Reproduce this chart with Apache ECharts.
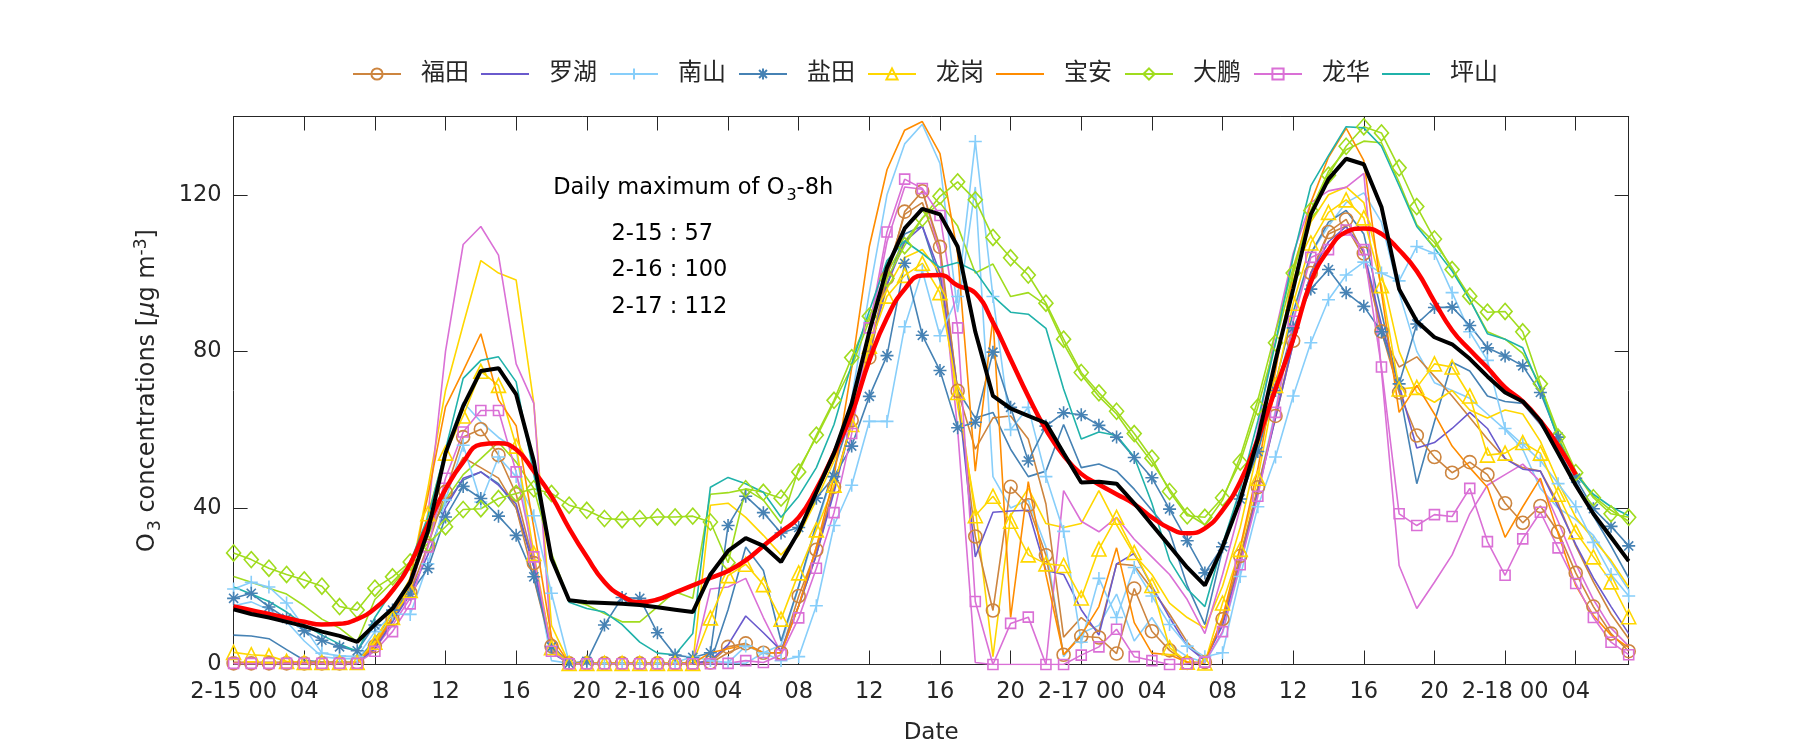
<!DOCTYPE html>
<html><head><meta charset="utf-8">
<script src="https://cdn.jsdelivr.net/npm/echarts@6/dist/echarts.min.js"></script>
<style>html,body{margin:0;padding:0;background:#fff}#chart{width:1800px;height:750px}</style>
</head><body><div id="chart"></div>
<script>
// ---------------- DATA ----------------
const hours = [0,1,2,3,4,5,6,7,8,9,10,11,12,13,14,15,16,17,18,19,20,21,22,23,24,25,26,27,28,29,30,31,32,33,34,35,36,37,38,39,40,41,42,43,44,45,46,47,48,49,50,51,52,53,54,55,56,57,58,59,60,61,62,63,64,65,66,67,68,69,70,71,72,73,74,75,76,77,78,79];
const dayLabels = ['2-15','2-16','2-17','2-18'];
const stationNames = ['福田','罗湖','南山','盐田','龙岗','宝安','大鹏','龙华','坪山'];

const futian = [0.3,0.3,0.3,0.3,0.3,0.3,0.3,0.5,4.7,11.6,18.4,30.3,44.1,58.1,60.1,53.5,43.5,25.9,4.7,0.3,0.3,0.3,0.3,0.3,0.3,0.3,0.3,0.5,4.5,5.4,3.0,3.0,17.5,29.3,45.4,62.4,78.4,98.7,115.7,120.9,106.7,69.9,32.7,13.8,45.4,40.7,27.9,2.5,7.2,6.9,2.8,19.4,8.5,3.6,0.4,0.6,11.6,27.7,45.3,63.5,82.7,100,110.5,113.7,105,85.1,69.5,58.5,53,49,51.7,48.5,41.2,36.2,40.5,33.9,23.4,14.8,7.9,3.4];
const luohu = [0.5,0.5,0.5,0.5,0.5,0.5,0.5,0.5,4,11,18,28,40,47.6,49.2,45.8,41,25,3,0.3,0.3,0.3,0.3,0.3,0.3,0.3,0.3,1,5,12.4,8.1,3.6,15,28,44,62,80,97,108,112,100,70,27.5,38.9,39.2,39.4,24,23,14,7.5,25.7,28.4,20,12,4.7,1,10,26,44,63,82,100,108,111.9,105.5,86.8,71.3,55.3,56.7,60.3,64.4,60.3,52.6,49.9,49.4,40.3,30.7,22.1,14.8,7.9];
const nanshan = [19.3,21,19.8,15.7,9.5,2.9,2.2,2,8.4,12.9,12.8,25.7,42,56,41.5,53,48,38,18.2,0.5,0.3,0.3,0.3,0.3,0.3,0.5,2,1,0.5,4.7,3,1,2,15,35.5,45.8,62.1,62.1,86.3,100.6,84,94,133.6,94,60,65.7,48,34,5.7,22,12,24.8,17.5,10.2,4.7,2,3,22.5,40.3,53,68.6,82.2,93.2,99.5,102.8,100,98,106.8,105,95,85,77.7,60.3,56.2,52.1,46.2,40.3,31.2,23,17.5];
const yantian = [16.9,18.2,14.7,11.8,8.6,6.2,4.5,3.5,10.1,13.9,18,24.5,37.7,45.5,42.4,37.9,33,22.4,4.5,0.3,0.8,10.1,17.1,16.9,8.1,2.4,1.8,3,35.5,43,38.8,33.6,35,42.5,48,55.8,68.5,78.9,102.5,84.1,75.1,60.5,61.9,79.8,65.7,52,60.9,64.3,63.8,61.1,58.1,52.9,47.7,39.7,31.6,23.4,30.1,42.3,54.4,70,86,95.9,100.9,95,91.5,85,71.7,87,91.2,91.3,86.6,80.9,78.8,76.3,69.5,58.1,47.6,39.8,35.3,30.3];
const longgang = [3.1,2.5,2.2,0.8,0.5,0.5,0.5,0.5,5.7,12,18.9,38.5,54,63.5,74.9,71.3,55.8,28.4,4.3,0.3,0.3,0.3,0.3,0.3,0.3,0.3,0.3,11.9,22.7,25.6,20.4,11.6,23.4,34.4,45.8,61.3,81.3,94.1,99.4,102.5,95,69.5,38,43,36.6,28,25.7,25.3,17,29.5,37.6,28.6,20.2,4.3,0.6,0.4,15.7,29.4,47.6,71.3,92.3,107.7,115.5,118.7,114.1,96.8,70.4,70.8,76.8,76,68.6,53.5,54,56.7,54,43.5,33.9,27.5,21.1,12.2];
const baoan = [0.5,0.5,0.5,0.5,0.5,0.5,0.5,0.5,5,12,22,43,65.8,75,84.5,67.6,61,35,7,0.3,0.3,0.3,0.3,0.3,0.3,0.3,0.3,3,4,5,3,3,15,30,48,75.8,106.8,126.4,136.5,138.7,130.5,105,49.4,88.6,12,46.7,23,2.5,7.5,14.8,29.8,10.7,2.9,2.5,0.6,0.4,12,30,50,75,100,118,129.6,137,128.7,95,64.4,71.3,64,55.8,50.3,45.3,32.5,40.3,47.6,33.5,20.2,12.5,7.5,4.3];
const dapeng = [28.5,26.8,24.6,23,21.6,20,14.8,13.9,19.5,22.4,26.2,30.9,35.2,39.6,39.8,42.4,43.7,44.9,43.7,40.7,39.4,37.3,37,37.3,37.7,37.7,37.9,36.4,26,44.9,44,42.5,49.2,58.6,67.5,78.4,89,98.6,107,114,119.6,123.3,118.7,109.1,103.9,99.5,92.3,83.1,74.6,69.4,64.7,59,52.7,44.2,38,37.6,42.6,51.7,65.8,82.2,100,116,125,132.4,137.4,135.8,126.9,117,108.7,100.9,94.1,90,90.2,85,71.7,58.1,49,42.6,38.5,37.6];
const longhua = [0.3,0.3,0.3,0.3,0.3,0.3,0.3,0.3,3.4,8.4,15.5,30,47.6,59.4,64.9,64.9,49.2,27.5,3.4,0.2,0.2,0.2,0.2,0.2,0.2,0.2,0.2,0.2,0.3,1,0.5,2.5,11.9,24.6,38.8,59,86,110.5,124,121.6,114.7,86,16.1,0,10.5,12.1,0,0,2.4,4.5,9,2,1,0,0.2,0.6,8.4,25.5,43,64.4,87.7,104,106,111,106,76,38.5,35.5,38.3,37.8,45,31.4,22.8,32.1,38.9,29.8,20.7,12,5.7,2.5];
const pingshan = [19.8,18,16.1,13.4,10.2,7.5,5.2,3.4,12,18.9,26.2,37.6,54.9,73.1,77.7,78.6,72.2,48.5,27.5,15.9,14.3,13.4,10.2,5.7,2.9,2.5,7.9,45.3,47.8,46.2,44,37.6,43,50.3,61.3,76.8,90.4,103.2,108.2,105,101.4,102.7,100.5,94.1,90,89.5,85.9,70.4,57.6,59.4,58.5,53,41.2,26.6,19.3,14.8,30.7,44.8,62.2,82.2,104.1,122.3,130,137.4,137.1,132.4,122.3,111.9,106.4,100.5,93.2,84.5,83.1,80.9,70.4,57.6,48.5,43.5,40.3,38];

// unlabeled lines
const meanAll = [14.1,12.9,12,10.9,9.8,8.4,7.3,5.8,10.2,14.3,21,34,54,66,75,75.7,69,52,27,16.4,15.9,15.7,15.5,15.2,14.6,14,13.4,23,29,32.3,30.3,26.2,33.9,44,54,66.7,85,101.4,111.4,116.4,115,106.8,85,68.6,65.4,63.5,61.7,54,46.5,46.7,46.2,41.2,35.7,30.3,24.8,20.2,30,42,57.6,77.7,95.9,115,124,129.2,127.8,116.9,95.9,87.7,83.6,81.8,78.1,73.6,69.5,67.2,62.2,54,45.8,38.5,32.5,26.4];
const smoothMean = [14.8,13.9,12.9,11.9,10.9,10.2,10.4,11.6,14.3,18.9,25.7,35.7,44.8,51.7,56.2,56.5,54.9,49.4,43,34.8,27.5,21.1,17.5,15.9,16.6,18.4,20.2,22.1,23.9,26.6,30.3,33.9,37.6,44.8,54,64,77.7,88.6,95.9,99.4,99.5,96.8,94.9,87.4,78,68.5,60,53.4,48.7,46,43.5,41,37.6,34.8,33.5,34.8,39.4,46.7,57.6,70.4,83.1,97.7,105.9,110.5,111.4,110,105.9,100.5,92.7,85.4,80.4,75.8,70.8,67.2,62.2,56,48.5];
const extraGold = [0.5,0.5,0.5,0.5,0.5,0.5,0.5,0.5,6,14,22,45,70,86.8,103.2,100,98.2,66.7,10,0.3,0.3,0.3,0.3,0.3,0.3,0.3,0.3,40.7,41.2,37.6,33,28,33,42,52,65,82,96,104,106,100,66,40,2,38,45,36,35,36,44.4,35.7,28,23,15.7,12,9.3,20,35,55,78,98,113,120,122,118,100,80,69.5,67,70,65,63,65,64,57,46.7,37.6,32,26.6,19.8];
const extraOrchid = [0.3,0.3,0.3,0.3,0.3,0.3,0.3,0.3,4,10,17,38,80,107.3,111.9,104.6,76.8,66.7,4.7,0.3,0.3,0.3,0.3,0.3,0.3,0.3,0.3,19.3,19.8,22,12,3,15,30,45,62,85,108,122,121.4,105,60,0.5,0,0,0,0,44.4,36.6,33.9,37.6,32,27.5,23,16.6,7.9,23,40,60,85,105,118,121,121.9,125.5,75,25.3,14.3,21,28,38.5,45.8,48.5,51.2,46.7,36.6,25.7,16.6,9.3,4.7];
const extraGreen = [22.5,21,19.5,18,15,11.6,9.3,5.8,16.6,21.1,25.7,33,42.1,48.5,52.6,56.8,51.7,45,28.4,16.5,15.2,13,10.9,10.9,14.7,18.6,16.9,43.5,43.9,44.8,42,36,50,58,67,76,88,100,108,114,118,112,100,102.3,94,95,91.8,82,74,68.5,64,57.6,51.7,44.8,38.5,35.7,42,53,67.6,85,101.4,116,126,131.5,133.7,133.3,123.2,112.3,107.8,101.4,93.2,85,83.1,79.5,71.3,59.4,49.4,43,39.4,36.6];
const extraSteel = [7.5,7.3,6.6,3.8,1.1,0.6,0.6,0.5,6.5,13,20,33.9,41.2,47.1,49.2,46.2,40,25,5,0.3,0.3,0.3,0.3,0.3,0.3,0.3,0.3,0.5,14,30,24,6,20,36,50,64,80,97,110,112,98,70,63,64.4,55,48,49.4,61.3,50.3,51.2,49.4,44.8,39.4,33.9,20.2,10.2,29.4,42,55,72,90,105,113,116,110,90,70.4,46.2,62,77.2,75,68.6,67.2,66.7,61.3,54.9,46.7,38,30.3,22.1];
const extraPeru = [0.3,0.3,0.3,0.3,0.3,0.3,0.3,0.3,4,11,20,33,44.8,52.9,50.3,47.6,40,22,4,0.3,0.3,0.3,0.3,0.3,0.3,0.3,0.3,0.3,3,5,3,3,15,28,45,62,80,100,115,118,105,70,55,63,63.5,57.6,41,7,12,8.4,25.7,25.3,19.3,12.9,5.7,1,11,27,45,63,82,100,110,112,104,85,76,78.6,73.6,68.6,63.1,57.6,52.6,50.3,49.4,41.2,30.3,21.1,12.9,6.6];
const extraSky = [15,16,14,11,6,2,1.5,1.5,6,12,20,35,55,67,62,58,55,25,1,0.3,0.3,0.3,0.3,0.3,0.3,0.3,0.3,0.3,0.3,0.3,3,5,20,35,50,68,95,120,133,138,128,90,122,48,40,42,30,2,8,10,18,6,12,5,2,0.5,8,25,45,65,88,105,112,118,120.5,113,95,80,72,70,68,64,60,55,45,40,37,33,26,19,13];

const dailyMax = [['2-15', 57], ['2-16', 100], ['2-17', 112]];

// ---------------- STYLE ----------------
const FONT = '"DejaVu Sans", "Noto Sans CJK SC", sans-serif';
const TXT = '#262626';
const C = {futian:'#CD853F', luohu:'#6A5ACD', nanshan:'#87CEFA', yantian:'#4682B4', longgang:'#FFD700',
  baoan:'#FF8C00', dapeng:'#A0DC1E', longhua:'#DA70D6', pingshan:'#20B2AA'};
const PLUS = 'path://M0,-1L0,1M-1,0L1,0';
const STAR = 'path://M0,-1L0,1M-1,0L1,0M-0.7,-0.7L0.7,0.7M-0.7,0.7L0.7,-0.7';
const LINE_ICON = 'path://M0,0H48V1.8H0Z';

function pts(arr){ return arr.map((v,i)=>[hours[i], v]); }
function line(name, arr, color, symbol, size, width, z){
  const s = {
    type:'line', name:name, data:pts(arr), z:z||2,
    lineStyle:{color:color, width:width||1.6},
    emphasis:{disabled:true}, silent:true, animation:false, clip:true
  };
  if (symbol){
    s.symbol = symbol; s.symbolSize = size; s.showSymbol = true;
    s.itemStyle = {color:'rgba(0,0,0,0)', borderColor:color, borderWidth:1.6};
  } else {
    s.symbol = 'none'; s.showSymbol = false;
    s.itemStyle = {color:color};
  }
  return s;
}

const series = [
  line('', extraSky, C.nanshan),
  line('', extraSteel, C.yantian),
  line('', extraPeru, C.futian),
  line('', extraGold, C.longgang),
  line('', extraOrchid, C.longhua),
  line('', extraGreen, C.dapeng),
  line(stationNames[0], futian, C.futian, 'circle', 13),
  line(stationNames[1], luohu, C.luohu),
  line(stationNames[2], nanshan, C.nanshan, PLUS, 13),
  line(stationNames[3], yantian, C.yantian, STAR, 13),
  line(stationNames[4], longgang, C.longgang, 'triangle', 14),
  line(stationNames[5], baoan, C.baoan),
  line(stationNames[6], dapeng, C.dapeng, 'diamond', [14,16]),
  line(stationNames[7], longhua, C.longhua, 'rect', 10),
  line(stationNames[8], pingshan, C.pingshan),
  Object.assign(line('', smoothMean, '#FF0000', null, 0, 4.5, 5), {smooth:true}),
  line('', meanAll, '#000000', null, 0, 4, 6)
];
const noMarker = ['罗湖','宝安','坪山'];
const legendData = stationNames.map(n => noMarker.indexOf(n) >= 0 ? {name:n, icon:LINE_ICON} : {name:n});

function xLabel(v){
  if (v % 24 === 0) return dayLabels[v/24] + ' 00';
  const h = v % 24; return (h < 10 ? '0' : '') + h;
}
const axisCommon = {
  axisLine:{show:true, onZero:false, lineStyle:{color:TXT, width:1}},
  axisTick:{show:true, inside:true, length:14, lineStyle:{color:TXT, width:1}},
  splitLine:{show:false}
};

const chart = echarts.init(document.getElementById('chart'), null, {renderer:'canvas'});
chart.setOption({
  backgroundColor:'#fff',
  animation:false,
  textStyle:{fontFamily:FONT},
  grid:{left:233.6, right:171.3, top:116.5, bottom:85.5, containLabel:false},
  legend:{
    data:legendData, top:62, left:352, padding:0,
    itemWidth:48, itemHeight:14, itemGap:12,
    textStyle:{fontSize:24, color:TXT, fontFamily:FONT, padding:[0,0,0,15]}
  },
  xAxis:[
    Object.assign({type:'value', min:0, max:79, interval:4, position:'bottom',
      name:'Date', nameLocation:'middle', nameGap:57,
      nameTextStyle:{fontSize:23, color:TXT, fontFamily:FONT},
      axisLabel:{fontSize:22.5, color:TXT, margin:16, formatter:xLabel, showMaxLabel:false, fontFamily:FONT}}, axisCommon),
    Object.assign({type:'value', min:0, max:79, interval:4, position:'top',
      axisLabel:{show:false}}, axisCommon)
  ],
  yAxis:[
    Object.assign({type:'value', min:0, max:140, interval:40, position:'left',
      name:'{n|O}{sub|3}{n| concentrations [}{mu|μ}{n|g m}{sup|-3}{n|]}',
      nameLocation:'middle', nameGap:70, nameRotate:90,
      nameTextStyle:{fontSize:24, color:TXT, fontFamily:FONT,
        rich:{n:{fontSize:24, color:TXT, fontFamily:FONT},
              mu:{fontSize:24, color:TXT, fontFamily:FONT, fontStyle:'italic'},
              sub:{fontSize:17, color:TXT, fontFamily:FONT, padding:[14,0,0,2]},
              sup:{fontSize:17, color:TXT, fontFamily:FONT, padding:[0,0,14,0]}}},
      axisLabel:{fontSize:22.5, color:TXT, margin:12, showMaxLabel:false, fontFamily:FONT}}, axisCommon),
    Object.assign({type:'value', min:0, max:140, interval:40, position:'right',
      axisLabel:{show:false}}, axisCommon)
  ],
  series:series
});

// annotation, placed in data coordinates
const annoTitlePos = [18.1, 121.6];
const annoRowPos = [[21.4, 110.0], [21.4, 100.8], [21.4, 91.3]];
const g = [];
const tp = chart.convertToPixel({gridIndex:0}, annoTitlePos);
g.push({type:'text', z:50, silent:true, style:{
  text:'{a|Daily maximum of O}{s|3}{a|-8h}', x:tp[0], y:tp[1], verticalAlign:'middle', align:'left',
  rich:{a:{fontSize:22.5, fill:'#000', fontFamily:FONT}, s:{fontSize:16, fill:'#000', fontFamily:FONT, padding:[14,0,0,2]}}
}});
dailyMax.forEach((d,i)=>{
  const p = chart.convertToPixel({gridIndex:0}, annoRowPos[i]);
  g.push({type:'text', z:50, silent:true, style:{
    text:d[0] + ' : ' + d[1], x:p[0], y:p[1], verticalAlign:'middle', align:'left',
    font:'22.5px ' + FONT, fill:'#000'
  }});
});
chart.setOption({graphic:g});
</script>
</body></html>
